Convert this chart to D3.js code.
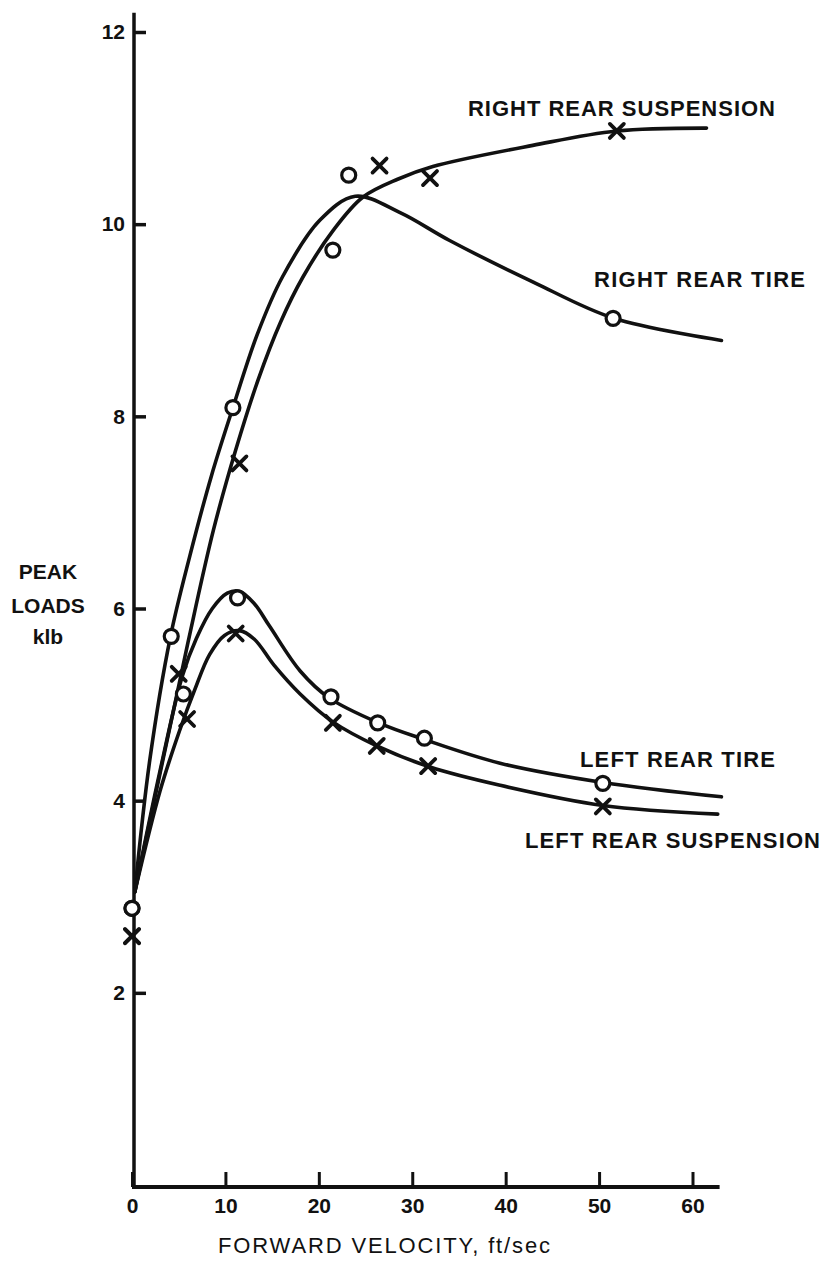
<!DOCTYPE html>
<html>
<head>
<meta charset="utf-8">
<script src="https://cdn.jsdelivr.net/npm/d3@7"></script>
<style>
  body { margin: 0; background: #fff; }
  svg { display: block; }
  text { font-family: "Liberation Sans", Arial, sans-serif; fill: #111; }
</style>
</head>
<body>
<div id="chart"></div>
<script>
const width = 827;
const height = 1261;

// x ticks / y ticks
const xTicks = [0, 10, 20, 30, 40, 50, 60];
const yTicks = [2, 4, 6, 8, 10, 12];

// fitted curves, [velocity, load]
const rrTireCurve = [[0.3,3.05],[1.9,4.42],[4.1,5.70],[6.2,6.55],[8.5,7.38],[10.8,8.09],[13.4,8.85],[16.1,9.45],[20.1,10.04],[23.9,10.29],[28.7,10.12],[34.0,9.83],[42.9,9.40],[51.6,9.02],[63.1,8.79]];
const rrSuspCurve = [[0.3,3.05],[3.3,4.42],[6.0,5.65],[8.7,6.81],[11.1,7.65],[13.5,8.38],[15.9,8.98],[18.3,9.45],[21.5,9.93],[24.7,10.28],[28.5,10.47],[32.2,10.60],[42.9,10.82],[51.9,10.97],[61.5,11.0]];
const lrTireCurve = [[0.3,3.05],[3.0,4.31],[5.4,5.30],[6.9,5.69],[8.6,6.00],[10.2,6.16],[11.5,6.18],[13.1,6.05],[14.7,5.82],[18.0,5.35],[21.1,5.07],[26.4,4.81],[31.2,4.64],[39.4,4.39],[50.4,4.19],[63.1,4.04]];
const lrSuspCurve = [[0.3,3.05],[3.0,4.10],[5.1,4.73],[6.7,5.15],[8.3,5.52],[9.9,5.72],[11.5,5.77],[13.1,5.68],[15.2,5.41],[18.0,5.11],[21.5,4.82],[26.2,4.57],[31.9,4.35],[39.4,4.16],[50.4,3.95],[62.7,3.86]];

// measured points
const rrTirePts = [[0,2.88],[4.2,5.71],[10.8,8.09],[21.5,9.73],[23.2,10.51],[51.5,9.02]];
const rrSuspPts = [[0,2.59],[5.0,5.32],[11.5,7.51],[26.5,10.61],[31.9,10.48],[51.9,10.97]];
const lrTirePts = [[0,2.88],[5.5,5.11],[11.3,6.11],[21.3,5.08],[26.3,4.81],[31.3,4.65],[50.4,4.18]];
const lrSuspPts = [[0,2.59],[5.9,4.85],[11.1,5.74],[21.5,4.81],[26.2,4.57],[31.7,4.36],[50.4,3.94]];

const svg = d3.select("#chart")
  .append("svg")
  .attr("width", width)
  .attr("height", height);

const x = d3.scaleLinear().domain([0, 60]).range([132, 692.5]);
const y = d3.scaleLinear().domain([0, 12]).range([1185, 32]);

// axis lines (drawn long, like the original)
svg.append("line")
  .attr("x1", x(0) + 2).attr("x2", x(0) + 2)
  .attr("y1", y(12.2)).attr("y2", y(0) + 3)
  .attr("stroke", "#111").attr("stroke-width", 3.5);
svg.append("line")
  .attr("x1", x(0)).attr("x2", x(62.9))
  .attr("y1", y(0) + 2).attr("y2", y(0) + 2)
  .attr("stroke", "#111").attr("stroke-width", 4);

const yAxis = svg.append("g")
  .attr("transform", `translate(${x(0) + 2},0)`)
  .call(d3.axisLeft(y).tickValues(yTicks).tickSize(-12).tickSizeOuter(0).tickPadding(9).tickFormat(d3.format("d")));
yAxis.select(".domain").remove();
yAxis.selectAll(".tick line").attr("stroke", "#111").attr("stroke-width", 3.5);
yAxis.selectAll(".tick text").style("font-size", "21px").style("font-weight", "bold").attr("fill", "#111");

const xAxis = svg.append("g")
  .attr("transform", `translate(0,${y(0) + 2})`)
  .call(d3.axisBottom(x).tickValues(xTicks).tickSize(-15).tickSizeOuter(0).tickPadding(11).tickFormat(d3.format("d")));
xAxis.select(".domain").remove();
xAxis.selectAll(".tick line").attr("stroke", "#111").attr("stroke-width", 3);
xAxis.selectAll(".tick text").style("font-size", "21px").style("font-weight", "bold").attr("fill", "#111");

// curves
const line = d3.line()
  .x(d => x(d[0]))
  .y(d => y(d[1]))
  .curve(d3.curveCatmullRom.alpha(0.5));

[rrTireCurve, rrSuspCurve, lrTireCurve, lrSuspCurve].forEach(c => {
  svg.append("path")
    .datum(c)
    .attr("d", line)
    .attr("fill", "none")
    .attr("stroke", "#111")
    .attr("stroke-width", 3.6)
    .attr("stroke-linecap", "round");
});

// circle markers (tires)
svg.append("g")
  .selectAll("circle")
  .data(rrTirePts.concat(lrTirePts))
  .enter()
  .append("circle")
  .attr("cx", d => x(d[0]))
  .attr("cy", d => y(d[1]))
  .attr("r", 7)
  .attr("fill", "#fff")
  .attr("stroke", "#111")
  .attr("stroke-width", 3.2);

// X markers (suspension)
const s = 7;
svg.append("g")
  .selectAll("path")
  .data(rrSuspPts.concat(lrSuspPts))
  .enter()
  .append("path")
  .attr("d", d => {
    const cx = x(d[0]), cy = y(d[1]);
    return `M${cx - s},${cy - s}L${cx + s},${cy + s}M${cx - s},${cy + s}L${cx + s},${cy - s}`;
  })
  .attr("stroke", "#111")
  .attr("stroke-width", 3.8)
  .attr("stroke-linecap", "round");

// series labels
const labels = [
  {t: "RIGHT REAR SUSPENSION", x: 468, y: 116, w: 307},
  {t: "RIGHT REAR TIRE", x: 594, y: 287, w: 211},
  {t: "LEFT REAR TIRE", x: 580, y: 767, w: 195},
  {t: "LEFT REAR SUSPENSION", x: 525, y: 848, w: 295}
];
svg.append("g")
  .selectAll("text")
  .data(labels)
  .enter()
  .append("text")
  .attr("x", d => d.x)
  .attr("y", d => d.y)
  .attr("textLength", d => d.w)
  .attr("lengthAdjust", "spacing")
  .style("font-size", "22px")
  .style("font-weight", "bold")
  .text(d => d.t);

// y title
const yTitle = ["PEAK", "LOADS", "klb"];
svg.append("g")
  .selectAll("text")
  .data(yTitle)
  .enter()
  .append("text")
  .attr("x", 48)
  .attr("y", (d, i) => [579, 613, 644][i])
  .attr("text-anchor", "middle")
  .style("font-size", "21px")
  .style("font-weight", "bold")
  .text(d => d);

// x title
svg.append("text")
  .attr("x", 218)
  .attr("y", 1253)
  .attr("textLength", 332)
  .attr("lengthAdjust", "spacing")
  .style("font-size", "22px")
  .text("FORWARD VELOCITY, ft/sec");
</script>
</body>
</html>
